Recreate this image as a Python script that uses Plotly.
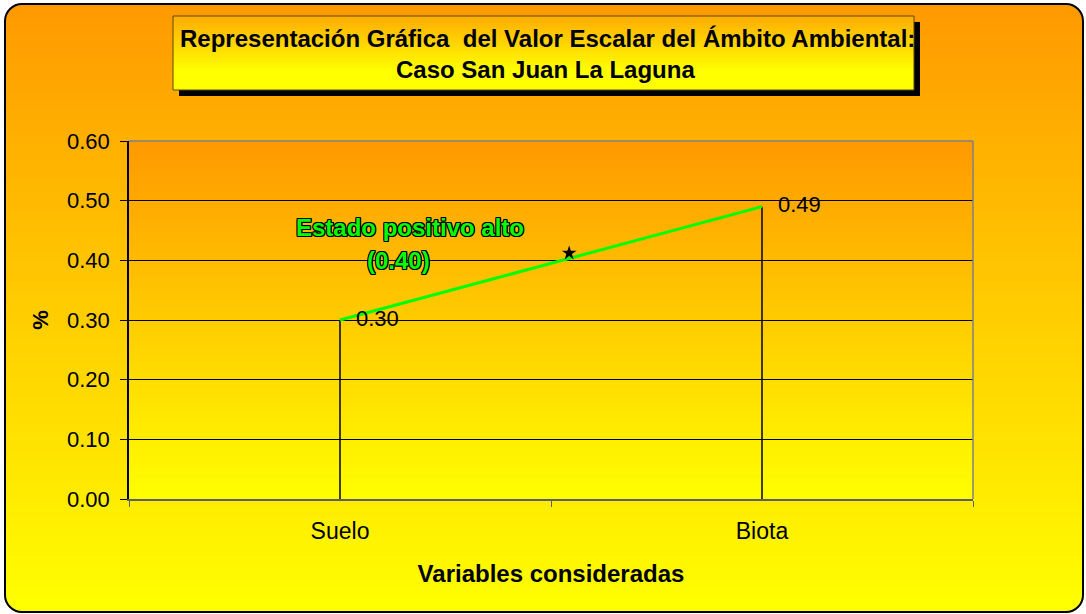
import plotly.graph_objects as go

# ---------------- data ----------------
categories = ["Suelo", "Biota"]
values = [0.30, 0.49]
value_labels = ["0.30", "0.49"]
y_ticks = [0.0, 0.1, 0.2, 0.3, 0.4, 0.5, 0.6]
reference_x = [0.543]
reference_y = [0.412]
reference_text = ["Estado positivo alto", "(0.40)"]
title_lines = ["Representación Gráfica  del Valor Escalar del Ámbito Ambiental:",
               "Caso San Juan La Laguna"]
x_title = "Variables consideradas"
y_title = "%"

# ---------------- geometry helpers ----------------
W, H = 1086, 614
L, R, T, B = 129, 113, 141, 115
PW = W - L - R
PH = H - T - B
FONT = "Liberation Sans, Arial, sans-serif"


def px(x):
    return (x - L) / PW


def py(y):
    return (H - B - y) / PH


def mix(c0, c1, f):
    f = max(0.0, min(1.0, f))
    return "rgb(%d,%d,%d)" % tuple(round(a + (b - a) * f) for a, b in zip(c0, c1))


ORANGE = (255, 153, 0)
YELLOW = (255, 255, 0)

shapes = []

# outer gradient background
fx0, fy0, fx1, fy1 = 5, 4, 1083, 612
N = 120
for i in range(N):
    ya = fy0 + (fy1 - fy0) * i / N
    yb = fy0 + (fy1 - fy0) * (i + 1) / N + 0.8
    shapes.append(dict(type="rect", xref="paper", yref="paper", layer="below",
                       x0=px(fx0), x1=px(fx1), y0=py(ya), y1=py(min(yb, fy1)),
                       fillcolor=mix(ORANGE, YELLOW, (i + 0.5) / N), line=dict(width=0)))

# rounded corner masks + frame
r = 17
k = 0.5523


def P(x, y):
    return "%.5f,%.5f" % (px(x), py(y))


corners = [
    (fx0, fy0, 1, 1),
    (fx1, fy0, -1, 1),
    (fx1, fy1, -1, -1),
    (fx0, fy1, 1, -1),
]
for cx, cy, sx, sy in corners:
    path = ("M " + P(cx, cy) + " L " + P(cx + sx * r, cy) +
            " C " + P(cx + sx * r * (1 - k), cy) + " " + P(cx, cy + sy * r * (1 - k)) + " " + P(cx, cy + sy * r) +
            " Z")
    shapes.append(dict(type="path", xref="paper", yref="paper", layer="below",
                       path=path, fillcolor="white", line=dict(width=0)))

frame = ("M " + P(fx0 + r, fy0) + " L " + P(fx1 - r, fy0) +
         " C " + P(fx1 - r * (1 - k), fy0) + " " + P(fx1, fy0 + r * (1 - k)) + " " + P(fx1, fy0 + r) +
         " L " + P(fx1, fy1 - r) +
         " C " + P(fx1, fy1 - r * (1 - k)) + " " + P(fx1 - r * (1 - k), fy1) + " " + P(fx1 - r, fy1) +
         " L " + P(fx0 + r, fy1) +
         " C " + P(fx0 + r * (1 - k), fy1) + " " + P(fx0, fy1 - r * (1 - k)) + " " + P(fx0, fy1 - r) +
         " L " + P(fx0, fy0 + r) +
         " C " + P(fx0, fy0 + r * (1 - k)) + " " + P(fx0 + r * (1 - k), fy0) + " " + P(fx0 + r, fy0) + " Z")
shapes.append(dict(type="path", xref="paper", yref="paper", layer="below",
                   path=frame, line=dict(color="black", width=2)))

# title box: shadow, gradient, border
tx0, ty0, tx1, ty1 = 173, 16, 914, 90
shapes.append(dict(type="rect", xref="paper", yref="paper", layer="below",
                   x0=px(tx0 + 6), x1=px(tx1 + 6), y0=py(ty0 + 6), y1=py(ty1 + 6),
                   fillcolor="black", line=dict(width=0)))
NT = 40
TOP_T = (255, 172, 0)
for i in range(NT):
    ya = ty0 + (ty1 - ty0) * i / NT
    yb = ty0 + (ty1 - ty0) * (i + 1) / NT + 0.8
    shapes.append(dict(type="rect", xref="paper", yref="paper", layer="below",
                       x0=px(tx0), x1=px(tx1), y0=py(ya), y1=py(min(yb, ty1)),
                       fillcolor=mix(TOP_T, YELLOW, ((i + 0.5) / NT) / 0.75), line=dict(width=0)))
shapes.append(dict(type="rect", xref="paper", yref="paper", layer="below",
                   x0=px(tx0), x1=px(tx1), y0=py(ty0), y1=py(ty1),
                   line=dict(color="#5a4a00", width=1)))

# plot-area gradient
NP = 90
for i in range(NP):
    shapes.append(dict(type="rect", xref="x domain", yref="y domain", layer="below",
                       x0=0, x1=1, y0=1 - (i + 1) / NP - 0.002, y1=1 - i / NP,
                       fillcolor=mix(ORANGE, YELLOW, (i + 0.5) / NP), line=dict(width=0)))
# grey plot border (top & right)
shapes.append(dict(type="line", xref="x domain", yref="y domain", x0=0, x1=1, y0=1, y1=1,
                   line=dict(color="#808080", width=1.5)))
shapes.append(dict(type="line", xref="x domain", yref="y domain", x0=1, x1=1, y0=0, y1=1,
                   line=dict(color="#808080", width=1.5)))

# ---------------- traces ----------------
fig = go.Figure()
fig.add_trace(go.Scatter(
    x=categories, y=values, mode="lines+markers+text",
    line=dict(color="#00FF00", width=3),
    marker=dict(size=24, color="rgba(0,0,0,0)"),
    text=value_labels, textposition="middle right",
    textfont=dict(family=FONT, size=22, color="black"),
    error_y=dict(type="data", symmetric=False, array=[0] * len(values), arrayminus=values,
                 color="black", thickness=1.5, width=0),
    hoverinfo="skip", showlegend=False, cliponaxis=False,
))
fig.add_trace(go.Scatter(
    x=reference_x, y=reference_y, xaxis="x2", yaxis="y", mode="markers",
    marker=dict(symbol="star", size=11, color="black"),
    showlegend=False, hoverinfo="skip",
))

annotations = [
    dict(text="<b>%s</b>" % title_lines[0], xref="paper", yref="paper", x=px(547), y=py(39),
         xanchor="center", yanchor="middle",
         showarrow=False, font=dict(family=FONT, size=24, color="black")),
    dict(text="<b>%s</b>" % title_lines[1], xref="paper", yref="paper", x=px(545), y=py(69),
         xanchor="center", yanchor="middle",
         showarrow=False, font=dict(family=FONT, size=24, color="black")),
]
shadow = "-1px -1px 0 #000, 1px -1px 0 #000, -1px 1px 0 #000, 1px 1px 0 #000, 0 1px 0 #000, 0 -1px 0 #000, 1px 0 0 #000, -1px 0 0 #000"
for txt, xx, yy in zip(reference_text, [410, 398], [227, 260]):
    annotations.append(dict(text="<b>%s</b>" % txt, xref="paper", yref="paper", x=px(xx), y=py(yy),
                            xanchor="center", yanchor="middle", showarrow=False,
                            font=dict(family=FONT, size=24, color="#00FF00", shadow=shadow)))

fig.update_layout(
    width=W, height=H,
    margin=dict(l=L, r=R, t=T, b=B, pad=0),
    paper_bgcolor="white", plot_bgcolor="rgba(0,0,0,0)",
    font=dict(family=FONT, size=21, color="black"),
    shapes=shapes, annotations=annotations,
    xaxis=dict(type="category", categoryorder="array", categoryarray=categories,
               range=[-0.5, len(categories) - 0.5],
               tickson="boundaries", ticks="outside", ticklen=6, tickcolor="#606060",
               showline=True, linecolor="#606060", linewidth=1.5, showgrid=False,
               tickfont=dict(family=FONT, size=23), ticklabelstandoff=11,
               title=dict(text="<b>%s</b>" % x_title, font=dict(family=FONT, size=24), standoff=22),
               fixedrange=True),
    xaxis2=dict(overlaying="x", range=[-0.5, len(categories) - 0.5], visible=False, fixedrange=True),
    yaxis=dict(range=[0, 0.6], tickvals=y_ticks, tickformat=".2f",
               ticks="outside", ticklen=7, tickcolor="black",
               showline=True, linecolor="black", linewidth=1.5,
               showgrid=True, gridcolor="black", gridwidth=1, zeroline=False,
               tickfont=dict(family=FONT, size=22), ticklabelstandoff=6,
               title=dict(text="<b>%s</b>" % y_title, font=dict(family=FONT, size=22), standoff=12),
               fixedrange=True),
)

fig.write_html("out.html", config={"displayModeBar": False},
               post_script="document.body.style.margin='0';document.body.style.overflow='hidden';")
